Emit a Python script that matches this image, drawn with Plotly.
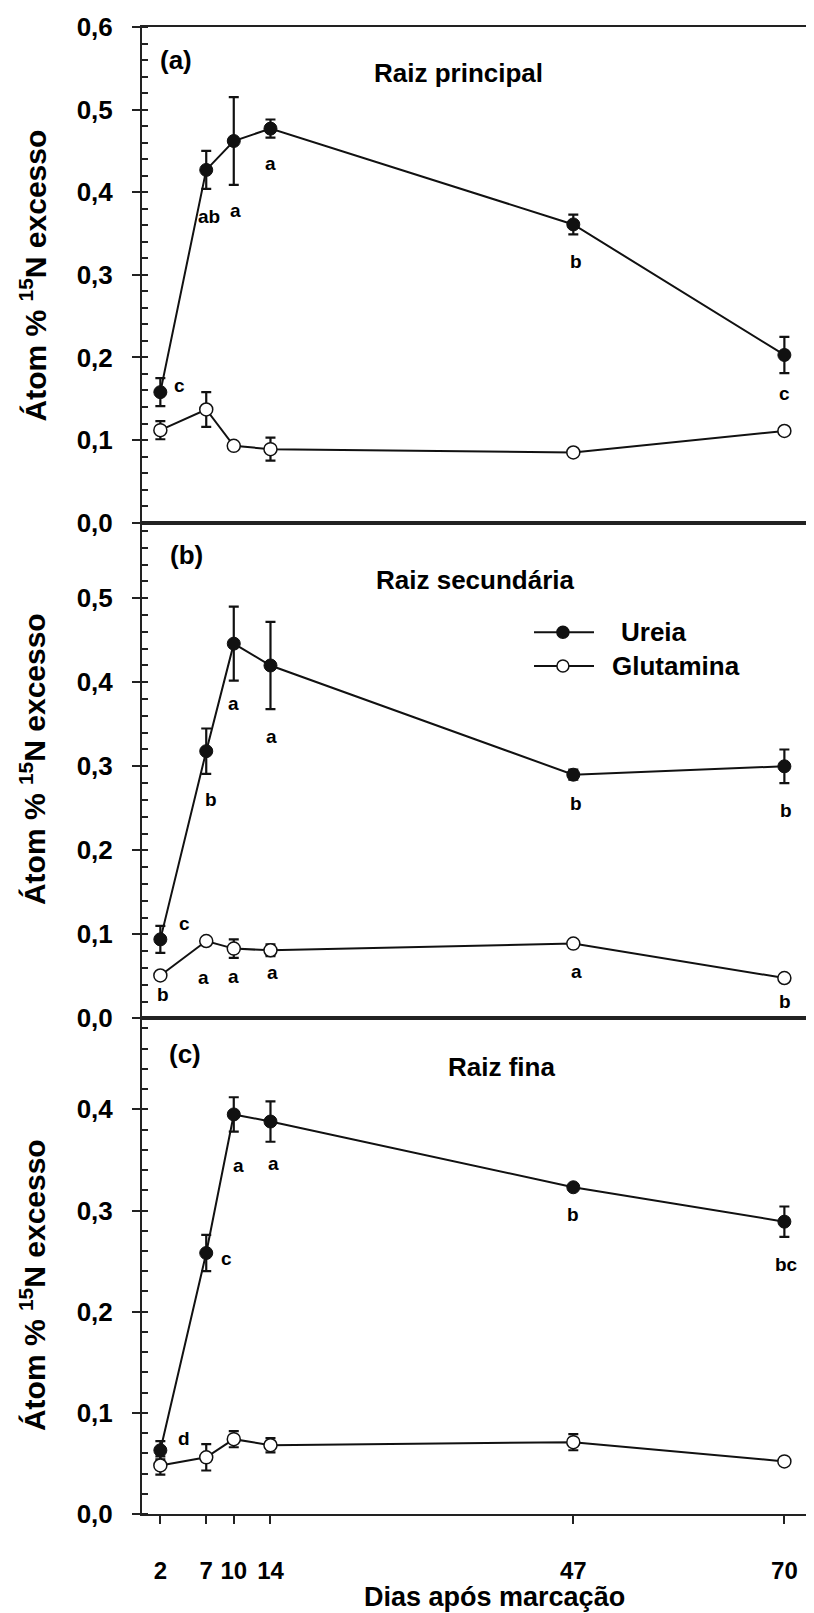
import plotly.graph_objects as go

# ---------------- data ----------------
days = [2, 7, 10, 14, 47, 70]
x_ticks = [2, 7, 10, 14, 47, 70]

a_ureia = [0.158, 0.427, 0.462, 0.477, 0.361, 0.203]
a_ureia_err = [0.017, 0.023, 0.053, 0.011, 0.012, 0.022]
a_glut = [0.112, 0.137, 0.093, 0.089, 0.085, 0.111]
a_glut_err = [0.011, 0.021, 0.0, 0.014, 0.0, 0.0]

b_ureia = [0.094, 0.318, 0.446, 0.420, 0.290, 0.300]
b_ureia_err = [0.016, 0.027, 0.044, 0.052, 0.006, 0.020]
b_glut = [0.051, 0.092, 0.083, 0.081, 0.089, 0.048]
b_glut_err = [0.0, 0.0, 0.011, 0.007, 0.0, 0.0]

c_ureia = [0.063, 0.258, 0.395, 0.388, 0.323, 0.289]
c_ureia_err = [0.009, 0.018, 0.017, 0.020, 0.0, 0.015]
c_glut = [0.048, 0.056, 0.074, 0.068, 0.071, 0.052]
c_glut_err = [0.009, 0.013, 0.008, 0.007, 0.008, 0.0]

a_ureia_letters = ["c", "ab", "a", "a", "b", "c"]
a_glut_letters = ["", "", "", "", "", ""]
b_ureia_letters = ["c", "b", "a", "a", "b", "b"]
b_glut_letters = ["b", "a", "a", "a", "a", "b"]
c_ureia_letters = ["d", "c", "a", "a", "b", "bc"]
c_glut_letters = ["", "", "", "", "", ""]

panel_tags = ["(a)", "(b)", "(c)"]
panel_titles = ["Raiz principal", "Raiz secundária", "Raiz fina"]
y_ranges = [[0, 0.6], [0, 0.59], [0, 0.49]]
series_names = ["Ureia", "Glutamina"]
y_title = "Átom % <sup>15</sup>N excesso"
x_title = "Dias após marcação"

# ---------------- style (pixel offsets of letters from their points) -------
a_ureia_off = [(19, 7), (3, -47), (2, -69), (0, -35), (3, -37), (0, -39)]
b_ureia_off = [(24, 16), (5, -48), (0, -60), (1, -71), (3, -29), (2, -44)]
b_glut_off = [(3, -19), (-3, -36), (0, -28), (2, -22), (3, -28), (1, -23)]
c_ureia_off = [(24, 12), (20, -5), (5, -51), (3, -42), (0, -27), (2, -43)]
zero_off = [(0, 0)] * 6

FONT = "Liberation Sans, Arial, sans-serif"
LC = "#111111"
AX = "#222222"

panels = [
    (a_ureia, a_ureia_err, a_glut, a_glut_err, a_ureia_letters, a_glut_letters, a_ureia_off, zero_off),
    (b_ureia, b_ureia_err, b_glut, b_glut_err, b_ureia_letters, b_glut_letters, b_ureia_off, b_glut_off),
    (c_ureia, c_ureia_err, c_glut, c_glut_err, c_ureia_letters, c_glut_letters, c_ureia_off, zero_off),
]

fig = go.Figure()
annotations = []
shapes = []

domains = [[2 / 3, 1.0], [1 / 3, 2 / 3], [0.0, 1 / 3]]
tag_pos = [(0.050, 0.933), (0.065, 0.934), (0.063, 0.929)]
title_pos = [(0.466, 0.907), (0.490, 0.885), (0.529, 0.9015)]
ytitle_pos = [0.4986, 0.523, 0.4618]

for i, (u, ue, g, ge, ul, gl, uoff, goff) in enumerate(panels):
    sfx = "" if i == 0 else str(i + 1)
    xa, ya = "x" + sfx, "y" + sfx
    fig.add_trace(go.Scatter(
        x=days, y=u, xaxis=xa, yaxis=ya, mode="lines+markers", name=series_names[0],
        line=dict(color=LC, width=2),
        marker=dict(symbol="circle", size=13, color=LC, line=dict(color=LC, width=1)),
        error_y=dict(type="data", array=ue, visible=True, color=LC, thickness=2.2, width=5),
        showlegend=False,
    ))
    fig.add_trace(go.Scatter(
        x=days, y=g, xaxis=xa, yaxis=ya, mode="lines+markers", name=series_names[1],
        line=dict(color=LC, width=2),
        marker=dict(symbol="circle", size=13, color="white", line=dict(color=LC, width=1.5)),
        error_y=dict(type="data", array=ge, visible=True, color=LC, thickness=2.2, width=5),
        showlegend=False,
    ))
    for vals, letters, offs in ((u, ul, uoff), (g, gl, goff)):
        for xd, yv, t, (dx, dy) in zip(days, vals, letters, offs):
            if not t:
                continue
            annotations.append(dict(
                x=xd, y=yv, xref=xa, yref=ya, text=t, showarrow=False,
                xshift=dx, yshift=dy, xanchor="center", yanchor="middle",
                font=dict(family=FONT, size=19, color="black", weight="bold"),
            ))
    annotations.append(dict(
        x=tag_pos[i][0], y=tag_pos[i][1], xref=xa + " domain", yref=ya + " domain",
        text=panel_tags[i], showarrow=False, xanchor="center", yanchor="middle",
        font=dict(family=FONT, size=26, color="black", weight="bold"),
    ))
    annotations.append(dict(
        x=title_pos[i][0], y=title_pos[i][1], xref=xa + " domain", yref=ya + " domain",
        text=panel_titles[i], showarrow=False, xanchor="center", yanchor="middle",
        font=dict(family=FONT, size=26, color="black", weight="bold"),
    ))
    annotations.append(dict(
        x=(25 - 134) / 680, y=ytitle_pos[i], xref="paper", yref=ya + " domain",
        text=y_title, showarrow=False, textangle=-90, xanchor="center", yanchor="middle",
        font=dict(family=FONT, size=30, color="black", weight="bold"),
    ))

# x axis title
annotations.append(dict(
    x=(486 - 134) / 680, y=(1506 - 1589) / 1487, xref="paper", yref="paper",
    text=x_title, showarrow=False, xanchor="center", yanchor="middle",
    font=dict(family=FONT, size=27, color="black", weight="bold"),
))

# custom legend inside panel (b)
leg_rows = [(0.779, LC, 0.7015), (0.711, "white", 0.688)]
for (yy, fill, tx), name in zip(leg_rows, series_names):
    shapes.append(dict(type="line", xref="x2 domain", yref="y2 domain",
                       x0=0.5765, x1=0.6647, y0=yy, y1=yy, line=dict(color=LC, width=2)))
    shapes.append(dict(type="circle", xref="x2 domain", yref="y2 domain",
                       xsizemode="pixel", ysizemode="pixel", xanchor=0.619, yanchor=yy,
                       x0=-6, x1=6, y0=-6, y1=6, fillcolor=fill, line=dict(color=LC, width=1.5)))
    annotations.append(dict(
        x=tx, y=yy, xref="x2 domain", yref="y2 domain", text=name, showarrow=False,
        xanchor="left", yanchor="middle",
        font=dict(family=FONT, size=26, color="black", weight="bold"),
    ))

tickfont = dict(family=FONT, size=26, color="black", weight="bold")
xtickfont = dict(family=FONT, size=24, color="black", weight="bold")
layout = dict(
    width=814, height=1613,
    margin=dict(l=134, r=0, t=19, b=107),
    paper_bgcolor="white", plot_bgcolor="white",
    separators=",.",
    showlegend=False,
    annotations=annotations, shapes=shapes,
)
for i in range(3):
    sfx = "" if i == 0 else str(i + 1)
    last = i == 2
    layout["xaxis" + sfx] = dict(
        domain=[0, 1], range=[0, 74.1], anchor="y" + sfx,
        showline=True, mirror=True, linecolor=AX, linewidth=2,
        showgrid=False, zeroline=False,
        ticks="outside" if last else "", ticklen=8, tickwidth=2, tickcolor=AX,
        tickvals=x_ticks, showticklabels=last, tickfont=xtickfont,
        ticklabelstandoff=26,
    )
    layout["yaxis" + sfx] = dict(
        domain=domains[i], range=y_ranges[i], anchor="x" + sfx,
        showline=True, mirror=False, linecolor=AX, linewidth=2,
        showgrid=False, zeroline=False,
        tick0=0, dtick=0.1, tickformat=".1f",
        ticks="outside", ticklen=8, tickwidth=2, tickcolor=AX,
        minor=dict(dtick=0.02, tick0=0, ticks="inside", ticklen=6, tickwidth=1.5, tickcolor=AX),
        tickfont=tickfont, ticklabelstandoff=14,
    )
fig.update_layout(**layout)
fig.write_html("out.html")
